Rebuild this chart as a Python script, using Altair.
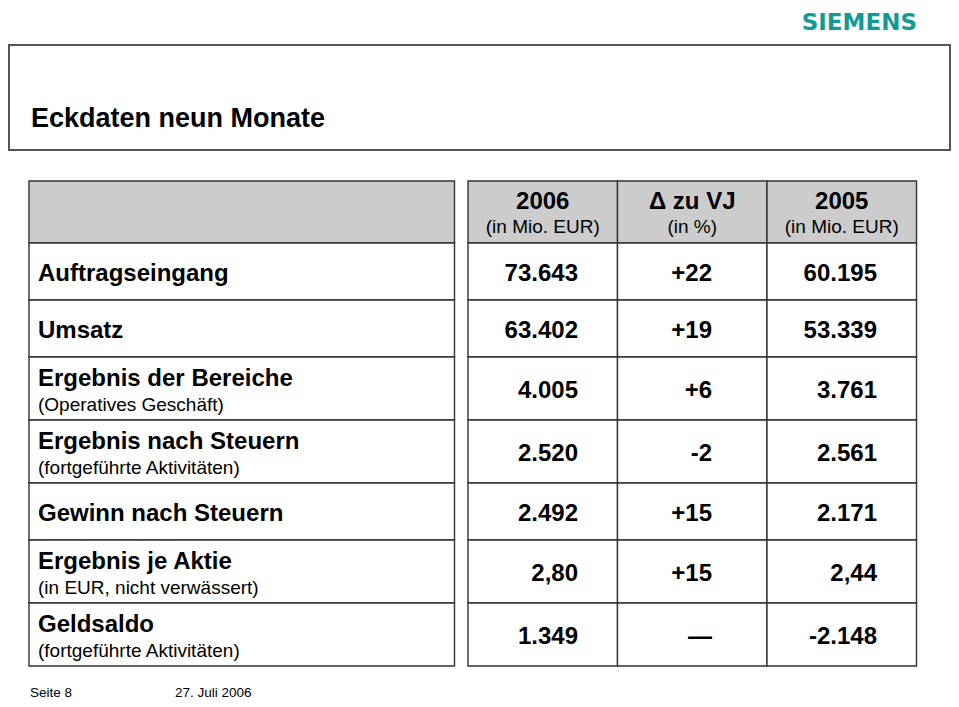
import altair as alt
import pandas as pd

# ---------------- data ----------------
title_text = "Eckdaten neun Monate"
logo_text = "SIEMENS"
footer_page = "Seite 8"
footer_date = "27. Juli 2006"

row_labels = [
    "Auftragseingang",
    "Umsatz",
    "Ergebnis der Bereiche",
    "Ergebnis nach Steuern",
    "Gewinn nach Steuern",
    "Ergebnis je Aktie",
    "Geldsaldo",
]
row_sublabels = [
    "",
    "",
    "(Operatives Geschäft)",
    "(fortgeführte Aktivitäten)",
    "",
    "(in EUR, nicht verwässert)",
    "(fortgeführte Aktivitäten)",
]
col_headers = ["2006", "Δ zu VJ", "2005"]
col_subheaders = ["(in Mio. EUR)", "(in %)", "(in Mio. EUR)"]
values_2006 = ["73.643", "63.402", "4.005", "2.520", "2.492", "2,80", "1.349"]
delta_vj = ["+22", "+19", "+6", "-2", "+15", "+15", "—"]
values_2005 = ["60.195", "53.339", "3.761", "2.561", "2.171", "2,44", "-2.148"]

# ---------------- layout (page pixel space) ----------------
W, H = 943, 691
TABLE_TOP = 181
HEADER_H = 62
ROW_H_SINGLE = 57
ROW_H_DOUBLE = 63
LEFT_X0, LEFT_X1 = 29, 454.5
RIGHT_X0 = 468
COL_W = 149.5
LABEL_X = 38
VALUE_PAD = [39.5, 55, 39.5]
FONT = "Liberation Sans"
HEADER_FILL = "#cccccc"
GRID = "#333333"

xs = alt.Scale(domain=[8, 8 + W], nice=False, zero=False)
ys = alt.Scale(domain=[8, 8 + H], nice=False, zero=False, reverse=True)

# row extents
row_spans = []
y = TABLE_TOP + HEADER_H
for sub in row_sublabels:
    h = ROW_H_DOUBLE if sub else ROW_H_SINGLE
    row_spans.append((y, y + h))
    y += h

col_spans = [(RIGHT_X0 + i * COL_W, RIGHT_X0 + (i + 1) * COL_W) for i in range(3)]

# cells
cells = []
cells.append(dict(x=LEFT_X0, x2=LEFT_X1, y=TABLE_TOP, y2=TABLE_TOP + HEADER_H, fill=HEADER_FILL))
for (t, b) in row_spans:
    cells.append(dict(x=LEFT_X0, x2=LEFT_X1, y=t, y2=b, fill="#ffffff"))
for (l, r) in col_spans:
    cells.append(dict(x=l, x2=r, y=TABLE_TOP, y2=TABLE_TOP + HEADER_H, fill=HEADER_FILL))
    for (t, b) in row_spans:
        cells.append(dict(x=l, x2=r, y=t, y2=b, fill="#ffffff"))
cells_df = pd.DataFrame(cells)


def enc_xy(chart):
    return chart.encode(
        x=alt.X("x:Q", scale=xs, axis=None),
        y=alt.Y("y:Q", scale=ys, axis=None),
    )


cell_layer = alt.Chart(cells_df).mark_rect(stroke=GRID, strokeWidth=1.4).encode(
    x=alt.X("x:Q", scale=xs, axis=None),
    x2="x2:Q",
    y=alt.Y("y:Q", scale=ys, axis=None),
    y2="y2:Q",
    fill=alt.Fill("fill:N", scale=None),
)

title_box = alt.Chart(pd.DataFrame([dict(x=9, x2=950, y=45, y2=150)])).mark_rect(
    fill="#ffffff", stroke="#555555", strokeWidth=2
).encode(
    x=alt.X("x:Q", scale=xs, axis=None),
    x2="x2:Q",
    y=alt.Y("y:Q", scale=ys, axis=None),
    y2="y2:Q",
)

# text tables
main_labels, sub_labels, vals = [], [], []
for i, (lab, sub) in enumerate(zip(row_labels, row_sublabels)):
    t, b = row_spans[i]
    if sub:
        main_labels.append(dict(x=LABEL_X, y=t + 29, text=lab))
        sub_labels.append(dict(x=LABEL_X, y=t + 53.5, text=sub))
    else:
        main_labels.append(dict(x=LABEL_X, y=(t + b) / 2 + 9.5, text=lab))
    for j, series in enumerate([values_2006, delta_vj, values_2005]):
        vals.append(dict(x=col_spans[j][1] - VALUE_PAD[j], y=(t + b) / 2 + 9.8, text=series[i]))

hdr_main = [dict(x=(l + r) / 2, y=TABLE_TOP + 28, text=h) for (l, r), h in zip(col_spans, col_headers)]
hdr_sub = [dict(x=(l + r) / 2, y=TABLE_TOP + 52, text=h) for (l, r), h in zip(col_spans, col_subheaders)]


def text_layer(rows, size, bold, align, color="#000000", font=FONT):
    return enc_xy(
        alt.Chart(pd.DataFrame(rows)).mark_text(
            font=font,
            fontSize=size,
            fontWeight="bold" if bold else "normal",
            align=align,
            baseline="alphabetic",
            color=color,
        )
    ).encode(text="text:N")


layers = [
    title_box,
    cell_layer,
    text_layer([dict(x=31, y=127, text=title_text)], 27, True, "left"),
    text_layer([dict(x=917, y=30, text=logo_text)], 23, True, "right", "#129a95", "DejaVu Sans"),
    text_layer(main_labels, 24, True, "left"),
    text_layer(sub_labels, 19, False, "left"),
    text_layer(vals, 24, True, "right"),
    text_layer(hdr_main, 24, True, "center"),
    text_layer(hdr_sub, 19, False, "center"),
    text_layer([dict(x=30, y=697, text=footer_page), dict(x=175, y=697, text=footer_date)], 13.5, False, "left"),
]

chart = (
    alt.layer(*layers)
    .properties(width=W, height=H, padding=0, autosize=alt.AutoSizeParams(type="none"))
    .configure_view(stroke=None)
)

chart.save("out.html", embed_options={"renderer": "svg", "actions": False})
